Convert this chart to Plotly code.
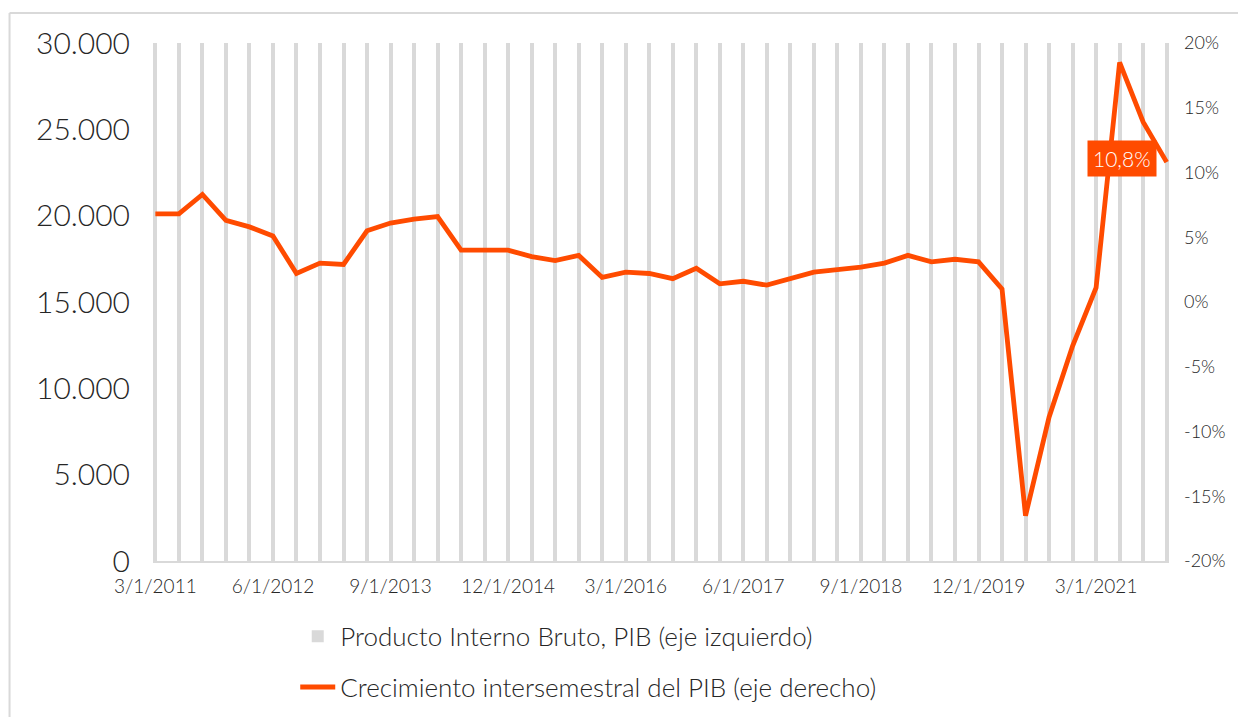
import plotly.graph_objects as go

quarters = [
    "3/1/2011", "6/1/2011", "9/1/2011", "12/1/2011",
    "3/1/2012", "6/1/2012", "9/1/2012", "12/1/2012",
    "3/1/2013", "6/1/2013", "9/1/2013", "12/1/2013",
    "3/1/2014", "6/1/2014", "9/1/2014", "12/1/2014",
    "3/1/2015", "6/1/2015", "9/1/2015", "12/1/2015",
    "3/1/2016", "6/1/2016", "9/1/2016", "12/1/2016",
    "3/1/2017", "6/1/2017", "9/1/2017", "12/1/2017",
    "3/1/2018", "6/1/2018", "9/1/2018", "12/1/2018",
    "3/1/2019", "6/1/2019", "9/1/2019", "12/1/2019",
    "3/1/2020", "6/1/2020", "9/1/2020", "12/1/2020",
    "3/1/2021", "6/1/2021", "9/1/2021", "12/1/2021",
]

# PIB (eje izquierdo) - all bars exceed the 30.000 axis maximum (clipped in the reference)
pib = [
    185000, 188000, 192000, 195000,
    197000, 198500, 198000, 200500,
    204000, 206000, 208500, 211000,
    213000, 214000, 216500, 218000,
    220500, 221500, 223000, 224500,
    225000, 226500, 227000, 228500,
    228500, 229500, 231000, 232000,
    233000, 235500, 237000, 238500,
    240500, 242500, 244000, 246000,
    243000, 202500, 222000, 237000,
    245500, 240000, 253000, 263000,
]

# Crecimiento (%) (eje derecho)
crecimiento = [
    6.8, 6.8, 8.3, 6.3,
    5.8, 5.1, 2.2, 3.0,
    2.9, 5.5, 6.1, 6.4,
    6.6, 4.0, 4.0, 4.0,
    3.5, 3.2, 3.6, 1.9,
    2.3, 2.2, 1.8, 2.6,
    1.4, 1.6, 1.3, 1.8,
    2.3, 2.5, 2.7, 3.0,
    3.6, 3.1, 3.3, 3.1,
    1.0, -16.5, -8.9, -3.4,
    1.1, 18.5, 13.9, 10.8,
]

x_tick_labels = ["3/1/2011", "6/1/2012", "9/1/2013", "12/1/2014", "3/1/2016",
                 "6/1/2017", "9/1/2018", "12/1/2019", "3/1/2021"]
left_ticks = [0, 5000, 10000, 15000, 20000, 25000, 30000]
right_ticks = [-20, -15, -10, -5, 0, 5, 10, 15, 20]
right_tick_text = ["-20%", "-15%", "-10%", "-5%", "0%", "5%", "10%", "15%", "20%"]

ORANGE = "#FF4B00"
GRAY = "#D9D9D9"
TXT = "#262626"
FONT = "Lato"

fig = go.Figure()
fig.add_trace(go.Bar(
    x=quarters, y=pib, name="Producto Interno Bruto, PIB (eje izquierdo)",
    marker=dict(color=GRAY, line=dict(width=0)), width=0.17,
    legendgroup="a", yaxis="y",
))
fig.add_trace(go.Scatter(
    x=quarters, y=crecimiento, name="Crecimiento intersemestral del PIB (eje derecho)",
    mode="lines", line=dict(color=ORANGE, width=4.8),
    legendgroup="b", yaxis="y2",
))

last_val = crecimiento[-1]
fig.add_annotation(
    x=quarters[-1], y=last_val, xref="x", yref="y2",
    text=f"{last_val:.1f}%".replace(".", ","), showarrow=False,
    xshift=-45, yshift=4,
    font=dict(family=FONT, size=21, color="white", weight=300),
    bgcolor=ORANGE, borderpad=5,
)

# chart frame (top and left borders)
fig.add_shape(type="line", xref="paper", yref="paper", x0=-0.1412, x1=1.08, y0=1.058, y1=1.058,
              line=dict(color="#D9D9D9", width=2))
fig.add_shape(type="line", xref="paper", yref="paper", x0=-0.1412, x1=-0.1412, y0=1.058, y1=-0.31,
              line=dict(color="#D9D9D9", width=2))

fig.update_layout(
    width=1238, height=709,
    margin=dict(l=145, r=77, t=35, b=156, autoexpand=False),
    paper_bgcolor="white", plot_bgcolor="white",
    separators=",.",
    font=dict(family=FONT, color=TXT, weight=300),
    bargap=0,
    xaxis=dict(
        type="category", range=[-0.1, len(quarters) - 0.9],
        tickmode="array", tickvals=x_tick_labels, ticktext=x_tick_labels,
        tickangle=0, showgrid=False, showline=True, linecolor=GRAY, linewidth=2,
        ticks="", tickfont=dict(size=19, family=FONT, color=TXT, weight=300),
        ticklabelstandoff=7, zeroline=False, automargin=False,
    ),
    yaxis=dict(
        range=[0, 30000], tickmode="array", tickvals=left_ticks,
        tickformat=",d", showgrid=False, zeroline=False, showline=False, ticks="",
        tickfont=dict(size=30, family=FONT, color=TXT, weight=300),
        ticklabelstandoff=22, automargin=False,
    ),
    yaxis2=dict(
        range=[-20, 20], overlaying="y", side="right", tickmode="array",
        tickvals=right_ticks, ticktext=right_tick_text, showgrid=False, zeroline=False,
        showline=False, ticks="",
        tickfont=dict(size=18, family=FONT, color=TXT, weight=300),
        ticklabelstandoff=14, automargin=False,
    ),
    showlegend=True,
    legend=dict(
        x=0.14, y=-0.1, xanchor="left", yanchor="top",
        orientation="v", traceorder="grouped", tracegroupgap=14,
        itemwidth=35, font=dict(size=26, family=FONT, color=TXT, weight=300),
        bgcolor="rgba(0,0,0,0)",
    ),
)

fig.write_html("out.html")
